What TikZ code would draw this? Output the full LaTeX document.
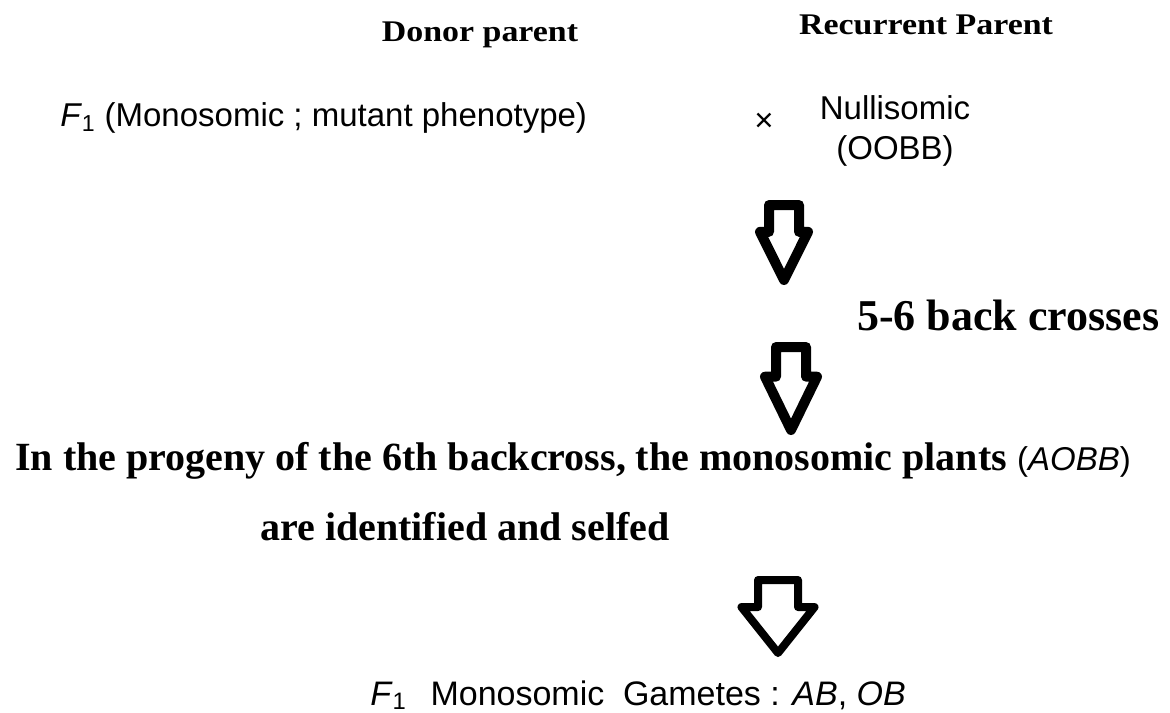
\documentclass[tikz,border=0pt]{standalone}
\usepackage{graphicx}
\usepackage{fontspec}
\setmainfont{Liberation Serif}
\setsansfont{Liberation Sans}
\usetikzlibrary{shapes.arrows}
\tikzset{
    % Text Styles
    headText/.style={font=\bfseries\fontsize{22.5}{27}\selectfont, anchor=base, inner sep=0pt},
    plainText/.style={font=\sffamily\fontsize{24.75}{30}\selectfont, inner sep=0pt},
    boldText/.style={font=\bfseries\fontsize{30}{36}\selectfont, anchor=base west, inner sep=0pt},
    % Block Arrow Style
    downArrow/.style={
        single arrow,
        draw=black,
        fill=white,
        line width=6pt,
        line join=round,
        rotate=-90,
        inner xsep=0pt,
        anchor=tail
    }
}

\begin{document}
\begin{tikzpicture}[x=0.75pt, y=-0.75pt]

    \useasboundingbox (0,0) rectangle (1170,713);

    % --- Parents ---
    \node (donor) [headText] at (480,42) {\scalebox{1.13}[1]{Donor parent}};
    \node (recur) [headText] at (926,35) {\scalebox{1.13}[1]{Recurrent Parent}};

    % --- Cross ---
    \node (fone) [plainText, anchor=base west] at (60,127)
        {\textit{F}\textsubscript{1} (Monosomic ; mutant phenotype)};
    \node (cross) [plainText] at (764,122) {×};
    \node (nulli) [plainText, anchor=base] at (895,120) {Nullisomic};
    \node (oobb) [plainText, anchor=base] at (895,160) {(OOBB)};

    % --- Backcrosses ---
    \node (arrA) [downArrow, line width=7.5pt, minimum height=56.25pt, inner ysep=7.5pt,
        single arrow head extend=6.75pt, single arrow tip angle=53] at (784,200) {};
    \node (bcross) [boldText, font=\bfseries\fontsize{33}{40}\selectfont] at (857,330) {5-6 back crosses};
    \node (arrB) [downArrow, line width=7.5pt, minimum height=62.25pt, inner ysep=7.5pt,
        single arrow head extend=8.25pt, single arrow tip angle=52] at (791,342) {};

    % --- Progeny ---
    \node (progA) [boldText] at (15,470)
        {In the progeny of the 6th backcross, the monosomic plants
        {\sffamily\mdseries\fontsize{24.75}{30}\selectfont(\textit{AOBB})}};
    \node (progB) [boldText] at (260,540) {are identified and selfed};

    % --- Gametes ---
    \node (arrC) [downArrow, minimum height=54.75pt, inner ysep=12pt,
        single arrow head extend=12.4pt, single arrow tip angle=77] at (778,576) {};
    \node (gamete) [plainText, anchor=base west, font=\sffamily\fontsize{25.5}{30}\selectfont] at (370,705)
        {\textit{F}\textsubscript{1}\hspace{18pt}Monosomic\hspace{14pt}Gametes : \textit{AB}, \textit{OB}};

\end{tikzpicture}
\end{document}
